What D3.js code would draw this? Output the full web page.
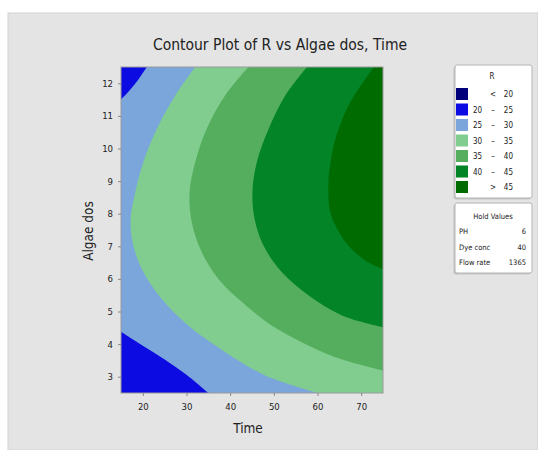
<!DOCTYPE html>
<html>
<head>
<meta charset="utf-8">
<script src="https://cdn.jsdelivr.net/npm/d3@7"></script>
<style>
  html, body { margin: 0; padding: 0; background: #ffffff; }
  svg { display: block; }
  text { font-family: "Liberation Sans Narrow", "DejaVu Sans Condensed", "Liberation Sans", sans-serif; fill: #222; }
</style>
</head>
<body>
<svg id="chart" width="538" height="450"></svg>
<script>
// ---- data -------------------------------------------------------------
const timeTicks  = [20, 30, 40, 50, 60, 70];
const algaeTicks = [3, 4, 5, 6, 7, 8, 9, 10, 11, 12];
const timeDomain  = [15, 75];
const algaeDomain = [2.5, 12.5];

const bandLabels = [["", "<", "20"], ["20", "–", "25"], ["25", "–", "30"], ["30", "–", "35"],
                    ["35", "–", "40"], ["40", "–", "45"], ["", ">", "45"]];
const bandColors = ["#00007a", "#0c0ce2", "#7ba6db", "#80cd8f", "#55ae5d", "#028427", "#006b00"];

// contour lines of R, as [Time, Algae dos] points
const contour20      = [[15, 2.56], [15.4, 2.5]];
const contour25Upper = [[20.9, 12.5], [18.9, 12.1], [16.9, 11.77], [15, 11.5]];
const contour25Lower = [[15, 4.38], [20, 3.95], [25, 3.53], [30, 3.06], [35, 2.5]];
const contour30 = [[32.0, 12.5], [27.4, 11.62], [23.2, 10.6], [20.1, 9.58], [18.1, 8.56], [17.2, 7.84],
                   [17.8, 7.03], [20.1, 6.21], [24.3, 5.39], [30.4, 4.57], [38.8, 3.76], [48.0, 3.04], [60.2, 2.5]];
const contour35 = [[44.2, 12.5], [38.8, 11.62], [34.6, 10.6], [32.0, 9.58], [30.7, 8.66], [31.2, 7.74],
                   [33.5, 6.82], [37.3, 6.0], [42.7, 5.29], [49.5, 4.57], [56.4, 4.06], [64.1, 3.6], [75, 3.19]];
const contour40 = [[57.6, 12.5], [52.6, 11.62], [48.8, 10.6], [46.1, 9.58], [45.1, 8.66], [45.6, 7.84],
                   [47.6, 7.03], [51.8, 6.21], [58.0, 5.49], [65.6, 4.88], [75, 4.52]];
const contour45 = [[72.9, 12.5], [67.1, 11.32], [64.1, 10.29], [63.0, 9.58], [62.5, 8.97], [62.9, 8.05],
                   [64.5, 7.54], [67.1, 7.02], [71.0, 6.56], [75, 6.31]];

const holdNames  = ["PH", "Dye conc", "Flow rate"];
const holdValues = ["6", "40", "1365"];

// ---- layout -----------------------------------------------------------
const svg = d3.select("#chart");
const plot = { left: 121, right: 383, top: 67, bottom: 393 };

const x = d3.scaleLinear().domain(timeDomain).range([plot.left, plot.right]);
const y = d3.scaleLinear().domain(algaeDomain).range([plot.bottom, plot.top]);

// grey panel
svg.append("rect").attr("x", 8).attr("y", 13).attr("width", 530).attr("height", 437)
  .attr("fill", "#e4e4e4").attr("stroke", "#d2d2d2").attr("stroke-width", 1);

// title
svg.append("text").attr("x", 280).attr("y", 50).attr("text-anchor", "middle")
  .attr("font-size", 15.5).text("Contour Plot of R vs Algae dos, Time");

// ---- filled contour bands --------------------------------------------
svg.append("defs").append("clipPath").attr("id", "plotClip")
  .append("rect").attr("x", plot.left).attr("y", plot.top)
  .attr("width", plot.right - plot.left).attr("height", plot.bottom - plot.top);

const g = svg.append("g").attr("clip-path", "url(#plotClip)");
const curve = d3.line().x(d => x(d[0])).y(d => y(d[1])).curve(d3.curveCatmullRom.alpha(0.5));
const [t0, t1] = timeDomain, [a0, a1] = algaeDomain;

// a region = contour line followed by the plot corners that close it
function region(line, corners) {
  let p = curve(line);
  corners.forEach(c => { p += "L" + x(c[0]) + "," + y(c[1]); });
  return p + "Z";
}

// base band 25–30 over the whole plot
g.append("rect").attr("x", plot.left).attr("y", plot.top)
  .attr("width", plot.right - plot.left).attr("height", plot.bottom - plot.top)
  .attr("fill", bandColors[2]);
// 20–25 corners
g.append("path").attr("d", region(contour25Upper, [[t0, a1]])).attr("fill", bandColors[1]);
g.append("path").attr("d", region(contour25Lower, [[t0, a0]])).attr("fill", bandColors[1]);
// below 20
g.append("path").attr("d", region(contour20, [[t0, a0]])).attr("fill", bandColors[0]);
// rising bands toward the right
g.append("path").attr("d", region(contour30, [[t1, a0], [t1, a1]])).attr("fill", bandColors[3]);
g.append("path").attr("d", region(contour35, [[t1, a1]])).attr("fill", bandColors[4]);
g.append("path").attr("d", region(contour40, [[t1, a1]])).attr("fill", bandColors[5]);
g.append("path").attr("d", region(contour45, [[t1, a1]])).attr("fill", bandColors[6]);

// frame
svg.append("rect").attr("x", plot.left).attr("y", plot.top)
  .attr("width", plot.right - plot.left).attr("height", plot.bottom - plot.top)
  .attr("fill", "none").attr("stroke", "#9a9a9a").attr("stroke-width", 1);

// ---- axes -------------------------------------------------------------
const xAxis = svg.append("g").attr("transform", `translate(0,${plot.bottom})`)
  .call(d3.axisBottom(x).tickValues(timeTicks).tickSize(3).tickPadding(7));
const yAxis = svg.append("g").attr("transform", `translate(${plot.left},0)`)
  .call(d3.axisLeft(y).tickValues(algaeTicks).tickSize(3).tickPadding(5));
[xAxis, yAxis].forEach(a => {
  a.select(".domain").remove();
  a.selectAll(".tick line").attr("stroke", "#888");
  a.selectAll(".tick text").attr("font-size", 9.5).attr("fill", "#333")
    .style("font-family", '"Liberation Sans Narrow", "DejaVu Sans Condensed", sans-serif');
});

svg.append("text").attr("x", 248).attr("y", 433).attr("text-anchor", "middle")
  .attr("font-size", 13.5).text("Time");
svg.append("text").attr("transform", "translate(93,231) rotate(-90)").attr("text-anchor", "middle")
  .attr("font-size", 13.5).text("Algae dos");

// ---- legend -----------------------------------------------------------
function box(x0, y0, w, h) {
  svg.append("rect").attr("x", x0 - 1.5).attr("y", y0 + 1.5).attr("width", w).attr("height", h)
    .attr("rx", 2).attr("fill", "#c4c4c4");
  svg.append("rect").attr("x", x0).attr("y", y0).attr("width", w).attr("height", h)
    .attr("rx", 2).attr("fill", "#ffffff").attr("stroke", "#b4b4b4");
}
box(455, 65, 77, 133);
svg.append("text").attr("x", 492).attr("y", 79).attr("text-anchor", "middle")
  .attr("font-size", 8).attr("fill", "#222").text("R");

const rowY = d3.scalePoint().domain(d3.range(bandColors.length)).range([94, 187]);
const leg = svg.append("g").selectAll("g").data(bandColors).join("g")
  .attr("transform", (d, i) => `translate(0,${rowY(i)})`);
leg.append("rect").attr("x", 456).attr("y", -6).attr("width", 12).attr("height", 12)
  .attr("fill", d => d);
leg.append("text").attr("x", 473).attr("y", 3).attr("font-size", 8)
  .text((d, i) => bandLabels[i][0]);
leg.append("text").attr("x", 493).attr("y", 3).attr("font-size", 8).attr("text-anchor", "middle")
  .text((d, i) => bandLabels[i][1]);
leg.append("text").attr("x", 513).attr("y", 3).attr("font-size", 8).attr("text-anchor", "end")
  .text((d, i) => bandLabels[i][2]);

box(455, 203, 77, 70);
svg.append("text").attr("x", 493).attr("y", 219).attr("text-anchor", "middle")
  .attr("font-size", 7.5).text("Hold Values");
holdNames.forEach((n, i) => {
  const yy = 234 + i * 15.5;
  svg.append("text").attr("x", 459).attr("y", yy).attr("font-size", 7.5).text(n);
  svg.append("text").attr("x", 526).attr("y", yy).attr("font-size", 7.5)
    .attr("text-anchor", "end").text(holdValues[i]);
});
</script>
</body>
</html>
